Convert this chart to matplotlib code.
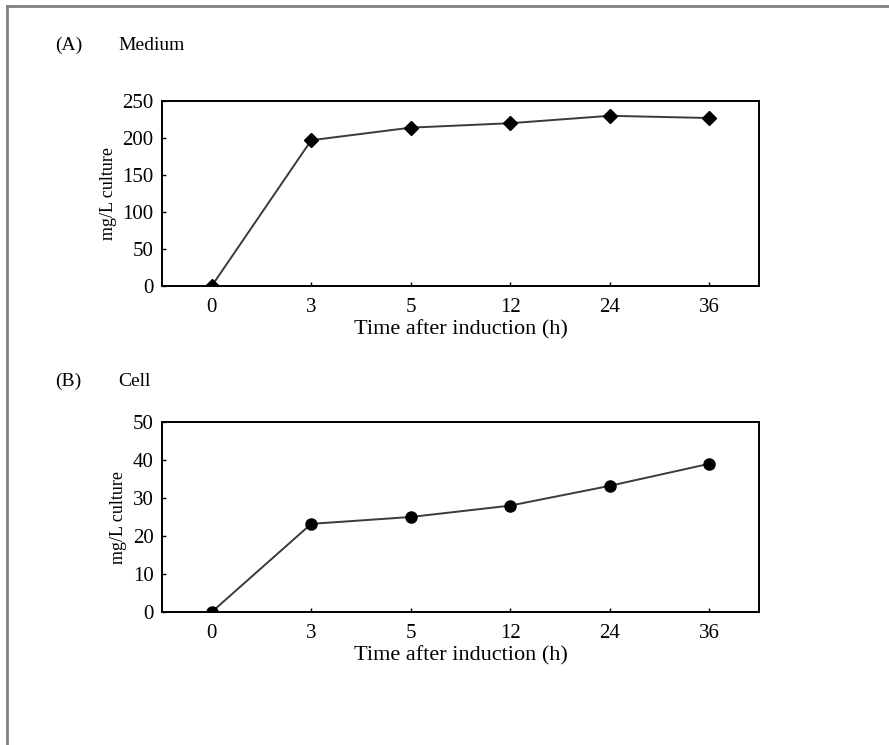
import matplotlib
matplotlib.use("Agg")
import matplotlib.pyplot as plt
from matplotlib.lines import Line2D

plt.rcParams['font.family'] = ['Liberation Serif', 'DejaVu Serif']

# 数据
time_labels = ['0', '3', '5', '12', '24', '36']
medium_values = [0, 197, 214, 220, 230, 227]
cell_values = [0, 23.2, 25, 28, 33.2, 39]

fig = plt.figure(figsize=(8.89, 7.45), dpi=100)

# 外框（只有上边和左边）
fig.add_artist(Line2D([7/889, 1], [1 - 6/745, 1 - 6/745], color='#808080', lw=2))
fig.add_artist(Line2D([7/889, 7/889], [0, 1 - 6/745], color='#808080', lw=2))

def draw_panel(rect, values, marker, ms, ylim, yticks, tag, name, tag_y):
    ax = fig.add_axes(rect)
    x = list(range(len(values)))
    ax.plot(x, values, color='#3a3a3a', lw=1.4, marker=marker, ms=ms,
            mfc='black', mec='black')
    ax.set_xlim(-0.5, 5.5)
    ax.set_ylim(*ylim)
    ax.set_yticks(yticks)
    ax.set_xticks(x)
    ax.set_xticklabels(time_labels)
    ax.tick_params(direction='in', length=3, width=1, labelsize=15)
    ax.tick_params(axis='x', pad=9)
    ax.tick_params(axis='y', pad=6)
    for s in ax.spines.values():
        s.set_linewidth(1.4)
    ax.set_xlabel('Time after induction (h)', fontsize=16, labelpad=2)
    ax.set_ylabel('mg/L culture', fontsize=13, labelpad=4)
    fig.text(55/889, 1 - tag_y/745, tag, fontsize=14, va='center')
    fig.text(118/889, 1 - tag_y/745, name, fontsize=14, va='center')
    return ax

draw_panel([162/889, 1 - 286/745, 597/889, 185/745], medium_values, 'D', 7,
           (0, 250), range(0, 251, 50), '(A)', 'Medium', 45)
draw_panel([162/889, 1 - 612/745, 597/889, 190/745], cell_values, 'o', 8,
           (0, 50), range(0, 51, 10), '(B)', 'Cell', 381)

fig.savefig('out.png', dpi=100)
